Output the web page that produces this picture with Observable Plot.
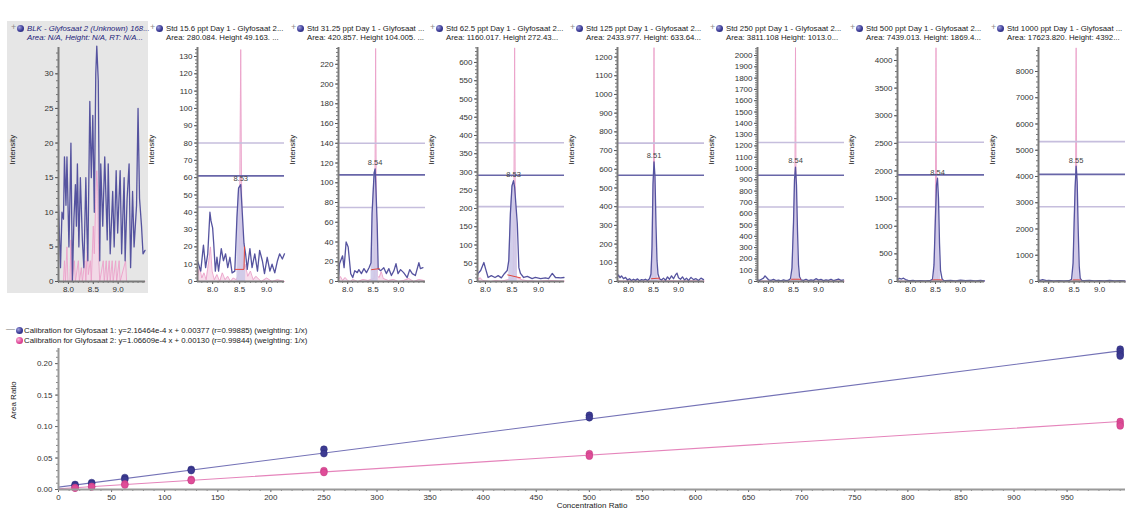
<!DOCTYPE html>
<html><head><meta charset="utf-8">
<script src="https://cdn.jsdelivr.net/npm/d3@7"></script>
<script src="https://cdn.jsdelivr.net/npm/@observablehq/plot@0.6"></script>
<style>
html,body{margin:0;padding:0;background:#fff;}
#root{position:relative;width:1135px;height:521px;overflow:hidden;font-family:"Liberation Sans",Arial,sans-serif;color:#222;}
.hdr{position:absolute;white-space:nowrap;font-size:7.8px;line-height:9px;}
.dot{position:absolute;width:7px;height:7px;border-radius:50%;}
.blue{background:radial-gradient(circle at 35% 35%,#a0a0dc 0%,#3a3a96 55%,#26266e 100%);}
.pink{background:radial-gradient(circle at 35% 35%,#f8b8d8 0%,#e0489a 55%,#b82872 100%);}
.plus{position:absolute;font-size:9px;line-height:9px;color:#8a8a8a;}
.panel{position:absolute;}
</style></head><body><div id="root"></div>
<script>
// ---------------- DATA ----------------
const panelTitles = [
  "BLK - Glyfosaat 2 (Unknown) 168...",
  "Std 15.6 ppt Day 1 - Glyfosaat 2...",
  "Std 31.25 ppt Day 1 - Glyfosaat ...",
  "Std 62.5 ppt Day 1 - Glyfosaat 2...",
  "Std 125 ppt Day 1 - Glyfosaat 2...",
  "Std 250 ppt Day 1 - Glyfosaat 2...",
  "Std 500 ppt Day 1 - Glyfosaat 2...",
  "Std 1000 ppt Day 1 - Glyfosaat ..."
];
const panelInfo = [
  "Area: N/A, Height: N/A, RT: N/A...",
  "Area: 280.084. Height 49.163. ...",
  "Area: 420.857. Height 104.005. ...",
  "Area: 1160.017. Height 272.43...",
  "Area: 2433.977. Height: 633.64...",
  "Area: 3811.108 Height: 1013.0...",
  "Area: 7439.013. Height: 1869.4...",
  "Area: 17623.820. Height: 4392..."
];
const peakRT = [null, "8.53", "8.54", "8.53", "8.51", "8.54", "8.54", "8.55"];
const peakRanges = [null, [8.42, 8.61], [8.46, 8.6], [8.44, 8.62], [8.45, 8.6], [8.46, 8.63], [8.45, 8.62], [8.47, 8.63]];
const cursorLevels = [
  [],
  [80, 61, 43],
  [140, 108, 75],
  [380, 291, 205],
  [740, 568, 398],
  [1230, 940, 660],
  [2520, 1930, 1350],
  [5330, 4080, 2850]
];
const yTickSteps = [5, 10, 20, 50, 100, 100, 500, 1000];

// chromatogram traces: [retention time, intensity]
const blkBlue = [[7.80,11],[7.84,2],[7.87,10],[7.90,9],[7.92,18],[7.95,11],[7.97,18],[8.01,5],[8.03,12],[8.05,20],[8.08,0],[8.11,9],[8.14,14],[8.16,8],[8.18,17],[8.21,5],[8.24,15],[8.28,6],[8.31,2],[8.35,15],[8.37,8],[8.39,3],[8.43,26],[8.46,15],[8.49,24],[8.52,10],[8.55,30],[8.57,34],[8.60,29],[8.63,3],[8.65,17],[8.69,8],[8.73,18],[8.78,6],[8.80,17],[8.84,4],[8.89,13],[8.92,5],[8.96,16],[8.99,7],[9.04,16],[9.07,4],[9.12,15],[9.14,3],[9.18,12],[9.22,17],[9.25,2],[9.29,13],[9.32,5],[9.37,11],[9.40,25],[9.43,12],[9.47,8],[9.50,4],[9.54,4.5]];
const blkPink = [[7.80,0],[7.90,0],[7.92,3],[7.94,0],[7.97,5],[7.99,0],[8.03,0],[8.05,6],[8.07,0],[8.12,3],[8.14,0],[8.20,3],[8.22,0],[8.26,2],[8.28,0],[8.33,3],[8.35,0],[8.38,5],[8.40,1],[8.44,3],[8.46,0],[8.50,8],[8.52,4],[8.55,12],[8.57,16],[8.59,13],[8.61,3],[8.63,0],[8.70,3],[8.72,0],[8.76,3],[8.78,0],[8.82,3],[8.84,0],[8.88,3],[8.90,0],[8.95,3],[8.97,0],[9.02,3],[9.04,0],[9.15,3],[9.17,0],[9.54,0]];

const std15Blue = [[7.72,12],[7.78,6],[7.83,21],[7.87,8],[7.91,16],[7.95,40],[7.97,35],[8.00,31],[8.02,22],[8.05,6],[8.08,14],[8.11,6],[8.16,19],[8.20,12],[8.24,16],[8.28,8],[8.32,14],[8.36,5],[8.41,6],[8.45,37],[8.48,54],[8.52,56],[8.55,39],[8.58,22],[8.61,16],[8.64,7],[8.69,19],[8.73,8],[8.78,16],[8.83,6],[8.87,18],[8.92,12],[8.96,4.5],[9.01,14],[9.06,6],[9.10,10],[9.15,5],[9.20,12],[9.24,16],[9.29,13],[9.33,16]];
const std15Pink = [[7.72,3],[7.76,8],[7.80,2],[7.84,5],[7.88,1],[7.93,12],[7.96,20],[7.99,6],[8.03,1],[8.08,4],[8.13,0],[8.18,5],[8.23,1],[8.28,3],[8.33,0],[8.38,2],[8.44,1],[8.49,5],[8.505,60],[8.52,134],[8.535,60],[8.55,6],[8.60,10],[8.65,3],[8.70,6],[8.75,1],[8.80,3],[8.90,0],[9.00,2],[9.10,0],[9.20,1],[9.33,0]];

const std31Blue = [[7.82,4],[7.84,18],[7.90,26],[7.93,14],[7.97,40],[8.01,35],[8.06,8],[8.10,4],[8.14,11],[8.19,9],[8.22,12],[8.27,8],[8.32,13],[8.37,9],[8.42,14],[8.46,19],[8.48,69],[8.52,110],[8.54,114],[8.55,102],[8.58,59],[8.60,13],[8.65,11],[8.71,14],[8.76,8],[8.81,13],[8.86,6],[8.91,11],[8.95,18],[8.99,8],[9.04,12],[9.10,9],[9.17,4],[9.22,12],[9.27,8],[9.33,6],[9.40,19],[9.43,13],[9.48,14]];
const std31Pink = [[7.82,2],[7.86,5],[7.90,1],[7.95,4],[8.00,1],[8.05,0],[8.10,2],[8.20,0],[8.30,2],[8.40,1],[8.52,3],[8.535,60],[8.55,236],[8.565,60],[8.58,6],[8.62,4],[8.66,10],[8.70,3],[8.80,1],[8.90,2],[9.00,0],[9.10,1],[9.20,3],[9.30,0],[9.40,2],[9.50,1]];

const std62Blue = [[7.85,15],[7.86,22],[7.91,30],[7.97,52],[8.00,36],[8.05,11],[8.11,16],[8.18,11],[8.24,16],[8.30,10],[8.36,22],[8.41,30],[8.44,58],[8.47,186],[8.50,262],[8.53,276],[8.55,258],[8.60,159],[8.63,38],[8.66,22],[8.72,11],[8.79,14],[8.88,8],[8.94,11],[9.04,8],[9.13,10],[9.19,8],[9.26,22],[9.32,11],[9.42,10],[9.48,11]];
const std62Pink = [[7.85,5],[7.90,10],[7.95,3],[8.00,2],[8.10,0],[8.20,3],[8.30,1],[8.40,4],[8.52,8],[8.535,150],[8.55,640],[8.565,150],[8.58,12],[8.70,4],[8.80,2],[9.00,1],[9.20,3],[9.49,1]];

const std125Blue = [[7.78,25],[7.80,35],[7.83,20],[7.86,30],[7.90,15],[7.94,22],[7.98,8],[8.02,15],[8.06,5],[8.10,12],[8.14,6],[8.18,14],[8.22,4],[8.26,10],[8.30,7],[8.34,12],[8.38,5],[8.42,15],[8.45,40],[8.47,180],[8.49,520],[8.51,640],[8.53,560],[8.55,300],[8.57,110],[8.59,40],[8.62,15],[8.66,8],[8.70,18],[8.74,6],[8.78,25],[8.82,12],[8.86,30],[8.90,15],[8.94,35],[8.97,45],[9.00,20],[9.04,12],[9.08,25],[9.12,8],[9.16,18],[9.20,5],[9.25,22],[9.30,10],[9.35,15],[9.40,5],[9.45,18],[9.50,10]];
const std125Pink = [[7.78,4],[7.90,2],[8.00,5],[8.20,2],[8.40,4],[8.48,10],[8.495,250],[8.51,1250],[8.525,250],[8.54,15],[8.70,5],[9.00,3],[9.30,5],[9.52,2]];

const std250Blue = [[7.78,15],[7.82,10],[7.86,20],[7.90,30],[7.93,50],[7.96,35],[8.00,15],[8.05,10],[8.10,18],[8.15,8],[8.20,12],[8.25,6],[8.30,14],[8.35,8],[8.40,12],[8.44,25],[8.47,120],[8.50,520],[8.52,900],[8.54,1013],[8.56,850],[8.58,450],[8.60,150],[8.62,45],[8.65,15],[8.70,10],[8.75,20],[8.80,8],[8.85,15],[8.90,10],[8.95,25],[9.00,12],[9.05,18],[9.10,8],[9.15,15],[9.20,10],[9.25,20],[9.30,8],[9.35,15],[9.40,22],[9.45,10],[9.50,14]];
const std250Pink = [[7.78,5],[8.00,4],[8.20,3],[8.40,6],[8.51,15],[8.525,400],[8.54,2070],[8.555,400],[8.57,20],[8.70,5],[9.00,4],[9.30,6],[9.52,3]];

const std500Blue = [[7.74,40],[7.78,55],[7.82,45],[7.86,60],[7.90,35],[7.95,20],[8.00,15],[8.05,20],[8.10,10],[8.20,15],[8.30,10],[8.40,20],[8.44,40],[8.47,300],[8.50,1200],[8.52,1750],[8.54,1869],[8.56,1500],[8.58,700],[8.60,200],[8.63,50],[8.66,20],[8.70,15],[8.80,20],[8.90,12],[9.00,25],[9.10,15],[9.20,20],[9.30,12],[9.40,18],[9.48,10]];
const std500Pink = [[7.74,8],[8.00,5],[8.20,4],[8.40,8],[8.48,20],[8.495,800],[8.51,4230],[8.525,800],[8.54,25],[8.70,8],[9.00,5],[9.48,4]];

const std1000Blue = [[7.80,60],[7.84,40],[7.88,70],[7.92,50],[7.96,30],[8.00,40],[8.10,25],[8.20,35],[8.30,20],[8.40,30],[8.45,80],[8.48,700],[8.50,2200],[8.52,3600],[8.54,4392],[8.56,3800],[8.58,2000],[8.60,600],[8.62,120],[8.65,40],[8.70,30],[8.80,40],[8.90,25],[9.00,35],[9.10,20],[9.20,40],[9.30,25],[9.40,30],[9.50,20]];
const std1000Pink = [[7.80,10],[8.00,8],[8.20,6],[8.40,12],[8.51,30],[8.525,1800],[8.54,8900],[8.555,1800],[8.57,40],[8.70,10],[9.00,8],[9.51,6]];

// integration baselines (red)
const baselines = [
  [],
  [[8.42,7],[8.58,7],[8.59,20]],
  [[8.47,12],[8.62,13]],
  [[8.42,18],[8.66,10]],
  [[8.46,15],[8.62,18]],
  [[8.46,20],[8.64,20]],
  [[8.45,30],[8.62,30]],
  [[8.48,60],[8.62,60]]
];

// calibration
const calLabels = [
  "Calibration for Glyfosaat 1: y=2.16464e-4 x + 0.00377 (r=0.99885) (weighting: 1/x)",
  "Calibration for Glyfosaat 2: y=1.06609e-4 x + 0.00130 (r=0.99844) (weighting: 1/x)"
];
const calSlopes = [2.16464e-4, 1.06609e-4];
const calIntercepts = [0.00377, 0.00130];
const cal1Points = [[15.6,0.008],[15.6,0.006],[31.25,0.011],[31.25,0.009],[62.5,0.019],[62.5,0.016],[125,0.032],[125,0.030],[250,0.064],[250,0.057],[500,0.118],[500,0.114],[1000,0.223],[1000,0.219],[1000,0.215],[1000,0.212]];
const cal2Points = [[15.6,0.003],[15.6,0.002],[31.25,0.005],[31.25,0.004],[62.5,0.009],[62.5,0.007],[125,0.016],[125,0.014],[250,0.030],[250,0.027],[500,0.057],[500,0.053],[1000,0.108],[1000,0.104],[1000,0.101]];

// ---------------- LAYOUT ----------------
const blueTraces = [blkBlue, std15Blue, std31Blue, std62Blue, std125Blue, std250Blue, std500Blue, std1000Blue];
const pinkTraces = [blkPink, std15Pink, std31Pink, std62Pink, std125Pink, std250Pink, std500Pink, std1000Pink];
const axisXs = [58, 197, 338, 477, 617, 757, 897, 1038];
const xDomains = [[7.8,9.55],[7.72,9.33],[7.82,9.53],[7.85,9.49],[7.78,9.52],[7.78,9.52],[7.74,9.48],[7.8,9.51]];
const yDomainsMax = [33.8, 135.2, 237, 641, 1251, 2071, 4235, 8914];

const root = document.getElementById("root");
function el(tag, cls, style, html) {
  const e = document.createElement(tag);
  if (cls) e.className = cls;
  Object.assign(e.style, style);
  if (html != null) e.textContent = html;
  root.appendChild(e);
  return e;
}

// panel 1 gray background
el("div", "", {position: "absolute", left: "7px", top: "21px", width: "141px", height: "272px", background: "#e6e6e6"});

const FONT = "Liberation Sans, Arial, sans-serif";
const ML = 52, MT = 7, MB = 20, FW = 87;

for (let i = 0; i < 8; i++) {
  const ax = axisXs[i];
  const tx = ax - 31;
  // header
  el("div", "plus", {left: (tx - 16) + "px", top: "23px"}, "+");
  el("div", "dot blue", {left: (tx - 10) + "px", top: "25px"});
  const h1 = el("div", "hdr", {left: tx + "px", top: "24px"}, panelTitles[i]);
  const h2 = el("div", "hdr", {left: tx + "px", top: "33px"}, panelInfo[i]);
  if (i === 0) { h1.style.fontStyle = "italic"; h2.style.fontStyle = "italic"; h1.style.color = "#23237a"; h2.style.color = "#23237a"; }

  const blue = blueTraces[i], pink = pinkTraces[i];
  const xd = xDomains[i], ymax = yDomainsMax[i];
  const marks = [];
  // pink trace
  marks.push(Plot.areaY(pink, {x: d => d[0], y: d => d[1], fill: "#f5d6e7", fillOpacity: 0.8}));
  marks.push(Plot.line(pink, {x: d => d[0], y: d => d[1], stroke: "#eba2ca", strokeWidth: 0.9}));
  // cursor lines
  if (cursorLevels[i].length) {
    marks.push(Plot.ruleY(cursorLevels[i], {stroke: (d, j) => j === 1 ? "mid" : "out", strokeWidth: 1.6}));
  }
  // peak fill
  if (peakRanges[i]) {
    const [a, b] = peakRanges[i];
    const pk = blue.filter(d => d[0] >= a && d[0] <= b);
    marks.push(Plot.areaY(pk, {x: d => d[0], y: d => d[1], fill: "#cdc9e8", fillOpacity: 0.9}));
  }
  marks.push(Plot.line(blue, {x: d => d[0], y: d => d[1], stroke: "#55539f", strokeWidth: 1.3}));
  if (baselines[i].length) marks.push(Plot.line(baselines[i], {x: d => d[0], y: d => d[1], stroke: "#e2453c", strokeWidth: 1}));
  if (peakRT[i]) {
    const [a, b] = peakRanges[i];
    const apex = d3.greatest(blue.filter(d => d[0] >= a && d[0] <= b), d => d[1]);
    marks.push(Plot.text([apex], {x: d => d[0], y: d => d[1], text: () => peakRT[i], dy: -6, fontSize: 7.5, fill: "#444"}));
  }
  // axes
  const yt = d3.range(0, ymax, yTickSteps[i]);
  marks.push(Plot.axisY(d3.range(0, ymax, yTickSteps[i] / 5), {tickSize: 2, tickFormat: () => "", stroke: "#777"}));
  marks.push(Plot.axisY(yt, {tickSize: 3, tickPadding: 2, tickFormat: d3.format("d"), label: null, stroke: "#555"}));
  marks.push(Plot.axisX(d3.range(7.8, xd[1], 0.1).filter(v => v >= xd[0]), {tickSize: 2, tickFormat: () => "", stroke: "#777"}));
  marks.push(Plot.axisX([8, 8.5, 9], {tickSize: 3, tickPadding: 2, tickFormat: d3.format(".1f"), label: null, stroke: "#555"}));
  marks.push(Plot.ruleX([xd[0]], {stroke: "#7a7a7a", strokeWidth: 2}));
  marks.push(Plot.ruleY([0], {stroke: "#7a7a7a", strokeWidth: 2}));
  marks.push(Plot.text(["Intensity"], {frameAnchor: "left", rotate: -90, dx: -46, fontSize: 8, fill: "#222"}));

  const svg = Plot.plot({
    width: ML + FW + 3, height: 281 - 40 + MB,
    marginLeft: ML, marginRight: 3, marginTop: MT, marginBottom: MB,
    x: {domain: xd, label: null},
    y: {domain: [0, ymax], label: null},
    color: {domain: ["mid", "out"], range: ["#6866a8", "#c6bedd"]},
    style: {fontFamily: FONT, fontSize: "8px", color: "#333", background: "transparent", overflow: "visible"},
    marks
  });
  const wrap = el("div", "panel", {left: (ax - ML) + "px", top: "40px"});
  wrap.appendChild(svg);
}

// bottom legend
el("div", "plus", {left: "6px", top: "325px", color: "#777"}, "—");
el("div", "dot blue", {left: "16px", top: "327px"});
el("div", "hdr", {left: "24px", top: "326px"}, calLabels[0]);
el("div", "dot pink", {left: "16px", top: "337px"});
el("div", "hdr", {left: "24px", top: "336px"}, calLabels[1]);

// calibration plot
const fitX = [0, 1000];
const fitLines = calSlopes.map((s, k) => fitX.map(x => [x, s * x + calIntercepts[k]]));
const cal = Plot.plot({
  width: 1135, height: 172,
  marginLeft: 58, marginRight: 10, marginTop: 5, marginBottom: 26,
  x: {domain: [0, 1005], label: null},
  y: {domain: [0, 0.224], label: null},
  style: {fontFamily: FONT, fontSize: "8px", color: "#333", background: "transparent", overflow: "visible"},
  marks: [
    Plot.line(fitLines[0], {x: d => d[0], y: d => d[1], stroke: "#7472b6", strokeWidth: 1.1}),
    Plot.line(fitLines[1], {x: d => d[0], y: d => d[1], stroke: "#e584bb", strokeWidth: 1.1}),
    Plot.dot(cal1Points, {x: d => d[0], y: d => d[1], r: 3.4, fill: "#3d3b92", stroke: "#2a2a78", strokeWidth: 0.5}),
    Plot.dot(cal2Points, {x: d => d[0], y: d => d[1], r: 3.4, fill: "#df4d98", stroke: "#c03a80", strokeWidth: 0.5}),
    Plot.axisY(d3.range(0, 0.224, 0.01), {tickSize: 2, tickFormat: () => "", stroke: "#888"}),
    Plot.axisY([0, 0.05, 0.1, 0.15, 0.2], {tickSize: 3, tickPadding: 3, tickFormat: d3.format(".2f"), label: null, stroke: "#666"}),
    Plot.axisX(d3.range(0, 1001, 10), {tickSize: 2, tickFormat: () => "", stroke: "#888"}),
    Plot.axisX(d3.range(0, 1000, 50), {tickSize: 3, tickPadding: 2, tickFormat: d3.format("d"), label: null, stroke: "#666"}),
    Plot.ruleX([0], {stroke: "#999", strokeWidth: 2}),
    Plot.ruleY([0], {stroke: "#999", strokeWidth: 2}),
    Plot.text(["Area Ratio"], {frameAnchor: "left", rotate: -90, dx: -45, fontSize: 8, fill: "#222"}),
    Plot.text(["Concentration Ratio"], {frameAnchor: "bottom", dy: 18, fontSize: 8, fill: "#222"})
  ]
});
el("div", "panel", {left: "0px", top: "343px"}).appendChild(cal);
</script></body></html>
